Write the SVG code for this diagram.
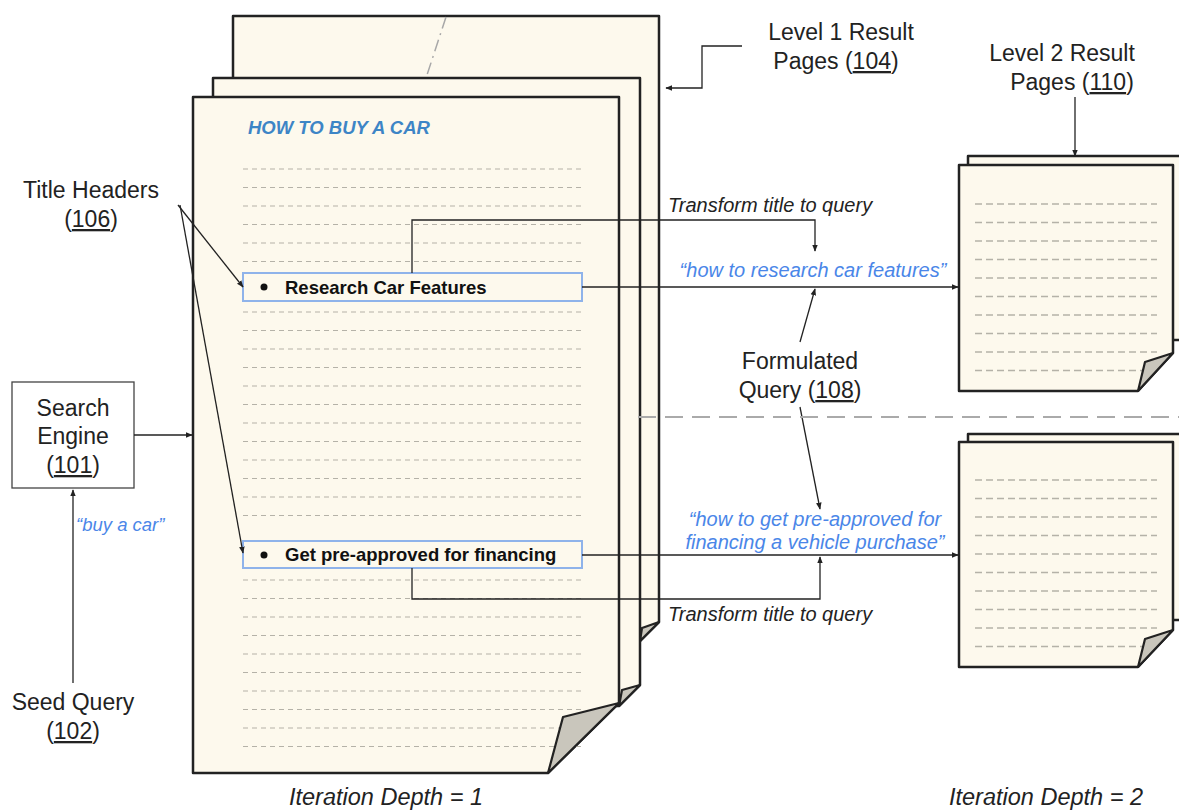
<svg xmlns="http://www.w3.org/2000/svg" width="1179" height="812" viewBox="0 0 1179 812">
<defs>
<style>
.page{fill:#fdf9ed;stroke:#222;stroke-width:2.5;stroke-linejoin:round}
.flap{fill:#c9c6bc;stroke:#222;stroke-width:2.2;stroke-linejoin:round}
.tl{stroke:#b5b2a8;stroke-width:1.2;stroke-dasharray:5 4;fill:none}
.tr{stroke:#b5b2a8;stroke-width:1.3;stroke-dasharray:7 4;fill:none}
.lbl{font-family:"Liberation Sans",Arial,sans-serif;font-size:23px;fill:#222;text-anchor:middle}
.it{font-family:"Liberation Sans",Arial,sans-serif;font-style:italic;font-size:20px;fill:#222}
.depth{font-family:"Liberation Sans",Arial,sans-serif;font-style:italic;font-size:23.5px;fill:#222;text-anchor:middle}
.q{font-family:"Liberation Sans",Arial,sans-serif;font-style:italic;font-size:20px;fill:#4a86e8}
.qs{font-family:"Liberation Sans",Arial,sans-serif;font-style:italic;font-size:18.5px;fill:#4a86e8}
.hb{fill:#fdf9ed;stroke:#8fb3ea;stroke-width:2}
.ht{font-family:"Liberation Sans",Arial,sans-serif;font-weight:bold;font-size:18.5px;fill:#111}
.c{fill:none;stroke:#222;stroke-width:1.3}
</style>
<marker id="ah" viewBox="0 0 10 10" refX="9" refY="5" markerWidth="7" markerHeight="7" markerUnits="userSpaceOnUse" orient="auto">
<path d="M0,1 L10,5 L0,9 z" fill="#222"/>
</marker>
</defs>
<rect width="1179" height="812" fill="#fff"/>

<g id="level1-pages">
<polygon class="page" points="233,16 659,16 659,622 640,641 233,641"/>
<polygon class="flap" points="659,622 642,628 640,641"/>
<line x1="446" y1="17" x2="426" y2="78" stroke="#a8a8a8" stroke-width="1.5" stroke-dasharray="12 5 2 5"/>
<polygon class="page" points="213,78 640,78 640,685 619,706 213,706"/>
<polygon class="flap" points="640,685 622,690 619,706"/>
<polygon class="page" points="193,97 619,97 619,703 548,773 193,773"/>
<g>
<path class="tl" d="M243,169H583M243,187.5H583M243,206H583M243,224.5H583M243,243H583M243,261.5H583M243,312H583M243,330.5H583M243,349H583M243,367.5H583M243,386H583M243,404.5H583M243,423H583M243,441.5H583M243,460H583M243,478.5H583M243,497H583M243,515.5H583M243,580H583M243,598.5H583M243,617H583M243,635.5H583M243,654H583M243,672.5H583M243,691H583M243,709.5H583M243,728H583M243,746.5H583"/>
</g>
<polygon class="flap" points="619,703 563,717 548,773"/>
<text x="248" y="134" font-family="Liberation Sans,Arial,sans-serif" font-weight="bold" font-style="italic" font-size="18.5" fill="#3d85c6">HOW TO BUY A CAR</text>
</g>

<g id="header-research">
<rect class="hb" x="243" y="273" width="339" height="28"/>
<circle cx="264" cy="287" r="3.5" fill="#111"/>
<text class="ht" x="285" y="294">Research Car Features</text>
</g>
<g id="header-financing">
<rect class="hb" x="243" y="541" width="339" height="27"/>
<circle cx="264" cy="555" r="3.5" fill="#111"/>
<text class="ht" x="285" y="561">Get pre-approved for financing</text>
</g>

<g id="level2-top">
<polygon class="page" points="968,156 1185,156 1185,340 968,340"/>
<polygon class="page" points="959,165 1173,165 1173,353 1138,391 959,391"/>
<path class="tr" d="M975,204H1157M975,222.5H1157M975,241H1157M975,259.5H1157M975,278H1157M975,296.5H1157M975,315H1157M975,333.5H1157M975,352H1157M975,370.5H1145"/>
<polygon class="flap" points="1173,353 1145,362 1138,391"/>
</g>
<g id="level2-bottom">
<polygon class="page" points="968,434 1185,434 1185,620 968,620"/>
<polygon class="page" points="959,442 1173,442 1173,630 1138,667 959,667"/>
<path class="tr" d="M975,480H1157M975,498.5H1157M975,517H1157M975,535.5H1157M975,554H1157M975,572.5H1157M975,591H1157M975,609.5H1157M975,628H1157M975,646.5H1145"/>
<polygon class="flap" points="1173,630 1145,639 1138,667"/>
</g>

<g id="search-engine">
<rect x="12" y="382" width="122" height="106" fill="#fff" stroke="#444" stroke-width="1.3"/>
<text class="lbl" x="73" y="416">Search</text>
<text class="lbl" x="73" y="444">Engine</text>
<text class="lbl" x="73" y="473">(<tspan text-decoration="underline">101</tspan>)</text>
</g>
<g id="seed-query">
<text class="lbl" x="73" y="710">Seed Query</text>
<text class="lbl" x="73" y="739">(<tspan text-decoration="underline">102</tspan>)</text>
</g>
<g id="title-headers">
<text class="lbl" x="91" y="198">Title Headers</text>
<text class="lbl" x="91" y="227">(<tspan text-decoration="underline">106</tspan>)</text>
</g>
<g id="level1-label">
<text class="lbl" x="841" y="40">Level 1 Result</text>
<text class="lbl" x="836" y="69">Pages (<tspan text-decoration="underline">104</tspan>)</text>
</g>
<g id="level2-label">
<text class="lbl" x="1062" y="61">Level 2 Result</text>
<text class="lbl" x="1072" y="90">Pages (<tspan text-decoration="underline">110</tspan>)</text>
</g>
<g id="formulated-query">
<text class="lbl" x="800" y="369">Formulated</text>
<text class="lbl" x="800" y="398">Query (<tspan text-decoration="underline">108</tspan>)</text>
</g>

<g id="connectors">
<line class="c" x1="134" y1="435" x2="192" y2="435" marker-end="url(#ah)"/>
<line class="c" x1="73" y1="683" x2="73" y2="490" marker-end="url(#ah)"/>
<line class="c" x1="178" y1="205" x2="243" y2="287" marker-end="url(#ah)"/>
<line class="c" x1="180" y1="205" x2="243" y2="553" marker-end="url(#ah)"/>
<polyline class="c" points="742,46 702,46 702,88 666,88" marker-end="url(#ah)"/>
<line class="c" x1="1075" y1="97" x2="1075" y2="156" marker-end="url(#ah)"/>
<line class="c" x1="582" y1="287" x2="958" y2="287" marker-end="url(#ah)"/>
<line class="c" x1="582" y1="555" x2="958" y2="555" marker-end="url(#ah)"/>
<polyline class="c" points="412,273 412,220 815,220 815,251" marker-end="url(#ah)"/>
<polyline class="c" points="412,568 412,599 820,599 820,557" marker-end="url(#ah)"/>
<line class="c" x1="800" y1="342" x2="815" y2="289" marker-end="url(#ah)"/>
<line class="c" x1="800" y1="407" x2="820" y2="509" marker-end="url(#ah)"/>
<line x1="638" y1="417" x2="1179" y2="417" stroke="#aaa" stroke-width="1.8" stroke-dasharray="18 9"/>
</g>

<g id="labels">
<text class="qs" x="76" y="531">“buy a car”</text>
<text class="it" x="668" y="212">Transform title to query</text>
<text class="it" x="668" y="621">Transform title to query</text>
<text class="q" x="813" y="277" text-anchor="middle">“how to research car features”</text>
<text class="q" x="815" y="526" text-anchor="middle">“how to get pre-approved for</text>
<text class="q" x="815" y="549" text-anchor="middle">financing a vehicle purchase”</text>
<text class="depth" x="386" y="805">Iteration Depth = 1</text>
<text class="depth" x="1046" y="805">Iteration Depth = 2</text>
</g>
</svg>
